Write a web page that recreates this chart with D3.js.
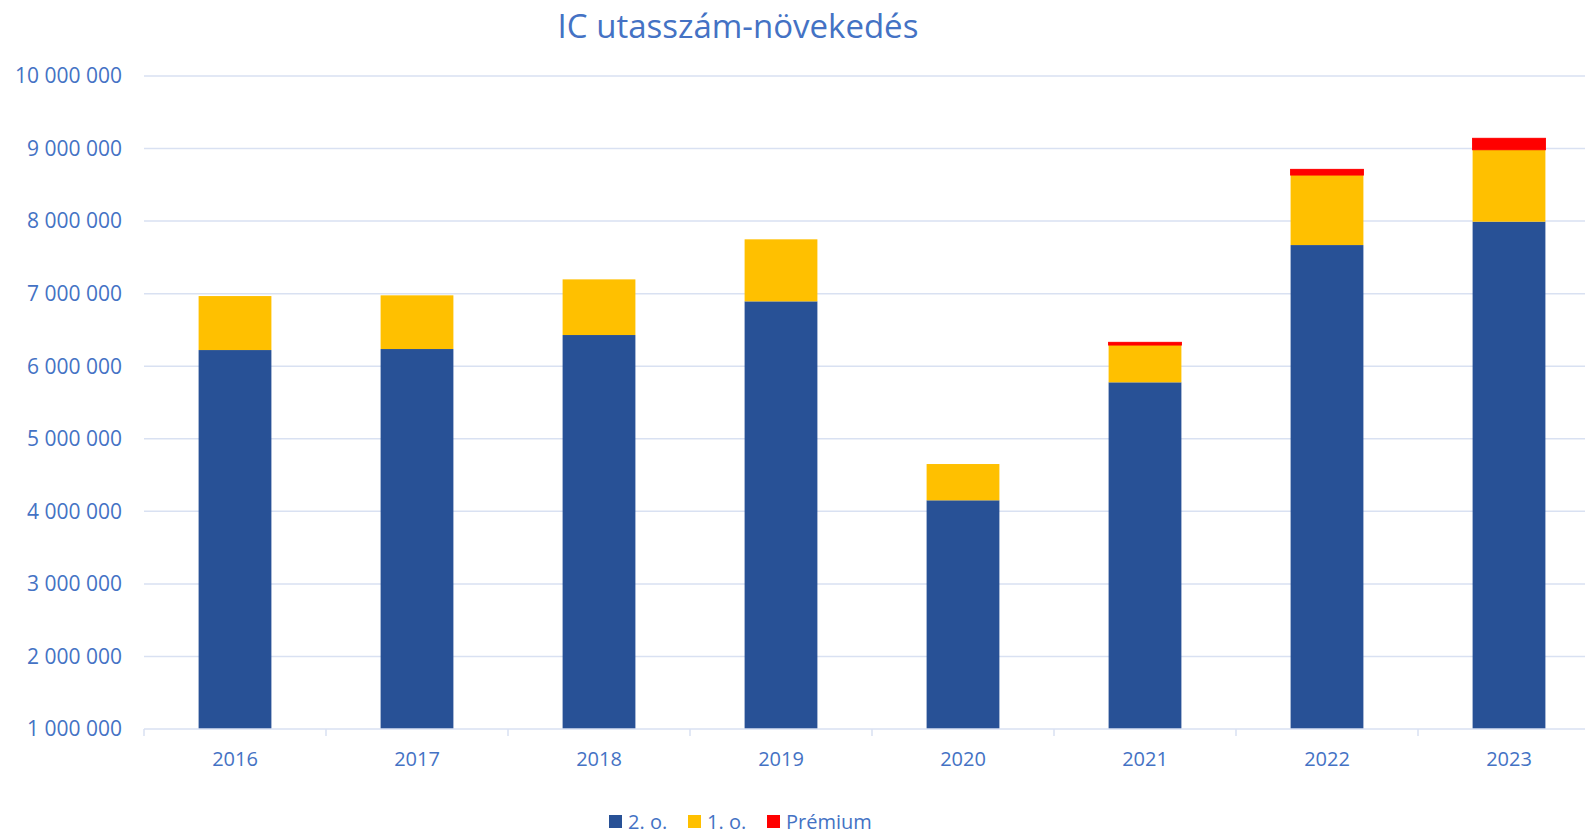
<!DOCTYPE html>
<html>
<head>
<meta charset="utf-8">
<script src="https://cdn.jsdelivr.net/npm/d3@7"></script>
<style>
  body { margin: 0; background: #fff; }
  svg { font-family: "Open Sans", sans-serif; }
</style>
</head>
<body>
<svg id="chart"></svg>
<script>
//chart data
const years = ["2016", "2017", "2018", "2019", "2020", "2021", "2022", "2023"];
const secondClass = [6223000, 6237000, 6430000, 6894000, 4152000, 5778000, 7670000, 7992000];
const firstClass = [744000, 740000, 767000, 855000, 500000, 514000, 965000, 992000];
const premium = [0, 0, 0, 0, 0, 37000, 78000, 157000];
const seriesNames = ["2. o.", "1. o.", "Prémium"];
const yTicks = [1000000, 2000000, 3000000, 4000000, 5000000, 6000000, 7000000, 8000000, 9000000, 10000000];

const width = 1585, height = 834;
const textColor = "#4472C4";
const gridColor = "#D9E1F2";
const colors = ["#285196", "#FFC000", "#FF0000"];

const svg = d3.select("#chart")
    .attr("width", width)
    .attr("height", height);

//build rows for the stack
const rows = years.map((y, i) => ({ year: y, s2: secondClass[i], s1: firstClass[i], p: premium[i] }));
const stacked = d3.stack().keys(["s2", "s1", "p"])(rows);

//scales
const x = d3.scaleBand()
    .domain(years)
    .range([144, 1600])
    .padding(0);

const y = d3.scaleLinear()
    .domain([1000000, 10000000])
    .range([729, 76])
    .clamp(true);

//number format with space as thousands separator
const locale = d3.formatLocale({ decimal: ",", thousands: "\u00a0", grouping: [3], currency: ["", ""] });
const fmt = locale.format(",");

//gridlines
svg.append("g")
    .selectAll("line")
    .data(yTicks.slice(1))
    .join("line")
    .attr("x1", 144)
    .attr("x2", width)
    .attr("y1", d => y(d))
    .attr("y2", d => y(d))
    .attr("stroke", gridColor)
    .attr("stroke-width", 1.5);

//y labels
svg.append("g")
    .selectAll("text")
    .data(yTicks)
    .join("text")
    .attr("x", 122)
    .attr("y", d => y(d))
    .attr("dy", "0.35em")
    .attr("text-anchor", "end")
    .attr("fill", textColor)
    .style("font-size", "21px")
    .text(d => fmt(d));

//bars
const barW = x.bandwidth() * 0.4;
svg.append("g")
    .selectAll("g")
    .data(stacked)
    .join("g")
    .attr("fill", (d, i) => colors[i])
    .attr("stroke", (d, i) => i === 2 ? colors[i] : "none")
    .attr("stroke-width", 1)
    .selectAll("rect")
    .data(d => d.filter(v => v[1] > v[0]))
    .join("rect")
    .attr("x", d => x(d.data.year) + (x.bandwidth() - barW) / 2)
    .attr("width", barW)
    .attr("y", d => y(d[1]))
    .attr("height", d => y(d[0]) - y(d[1]));

//x axis
const xAxis = svg.append("g")
    .attr("transform", `translate(0,${y(1000000)})`)
    .call(d3.axisBottom(x).tickSize(0).tickPadding(23));
xAxis.select(".domain").remove();
xAxis.selectAll("text")
    .attr("fill", textColor)
    .style("font-size", "20px")
    .style("font-family", "'Open Sans', sans-serif");

svg.append("line")
    .attr("x1", 144).attr("x2", width)
    .attr("y1", y(1000000)).attr("y2", y(1000000))
    .attr("stroke", gridColor)
    .attr("stroke-width", 1.5);

//tick marks between categories
svg.append("g")
    .selectAll("line")
    .data(years)
    .join("line")
    .attr("x1", d => x(d))
    .attr("x2", d => x(d))
    .attr("y1", y(1000000))
    .attr("y2", y(1000000) + 7)
    .attr("stroke", gridColor)
    .attr("stroke-width", 1.5);

//title
svg.append("text")
    .attr("x", 738)
    .attr("y", 38)
    .attr("text-anchor", "middle")
    .attr("fill", textColor)
    .style("font-size", "33px")
    .text("IC utasszám-növekedés");

//legend
const legendX = [609, 688, 767];
const legend = svg.append("g")
    .selectAll("g")
    .data(seriesNames)
    .join("g")
    .attr("transform", (d, i) => `translate(${legendX[i]},815)`);

legend.append("rect")
    .attr("width", 13)
    .attr("height", 13)
    .attr("fill", (d, i) => colors[i]);

legend.append("text")
    .attr("x", 19)
    .attr("y", 7)
    .attr("dy", "0.35em")
    .attr("fill", textColor)
    .style("font-size", "20px")
    .text(d => d);
</script>
</body>
</html>
